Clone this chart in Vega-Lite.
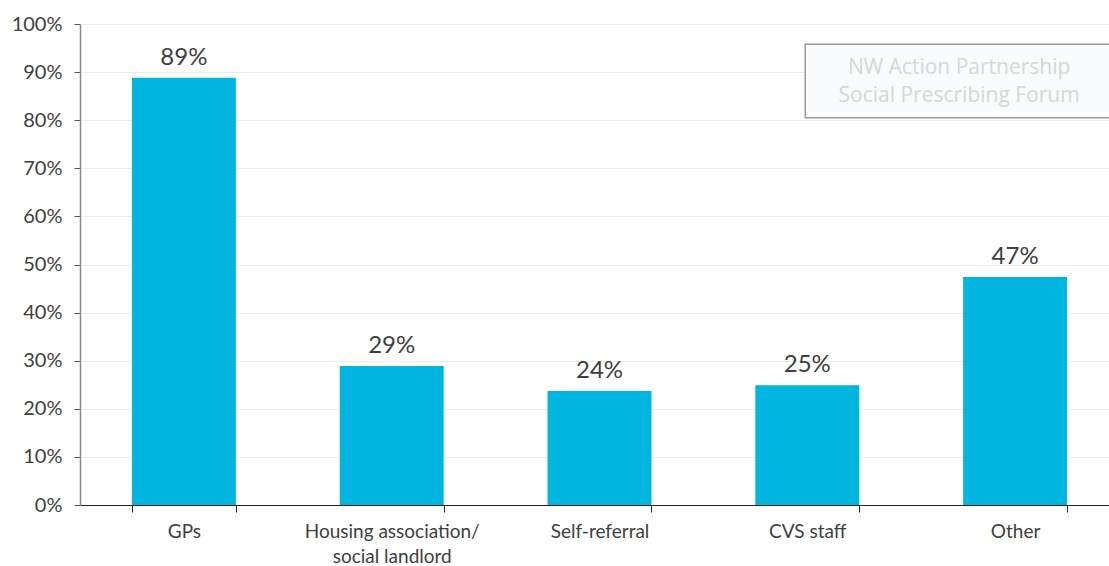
{
  "$schema": "https://vega.github.io/schema/vega-lite/v6.json",
  "autosize": "none",
  "width": 1039,
  "height": 481,
  "padding": {"left": 80, "top": 24, "right": 0, "bottom": 61},
  "background": "white",
  "config": {"view": {"stroke": null}, "font": "Lato"},
  "datasets": {
    "bars": [
      {"source": "GPs", "share": 88.8, "label": "89%"},
      {"source": "Housing association/ social landlord", "share": 28.9, "label": "29%"},
      {"source": "Self-referral", "share": 23.7, "label": "24%"},
      {"source": "CVS staff", "share": 24.9, "label": "25%"},
      {"source": "Other", "share": 47.4, "label": "47%"}
    ],
    "mark": [
      {"x1": "CVS staff", "x2": "Other", "y1": 80.5, "y2": 95.8, "line1": "NW Action Partnership", "line2": "Social Prescribing Forum"}
    ]
  },
  "layer": [
    {
      "data": {"name": "bars"},
      "mark": {"type": "bar", "color": "#00B6E0"},
      "encoding": {
        "x": {
          "field": "source", "type": "nominal", "title": null,
          "scale": {"domain": ["GPs", "Housing association/ social landlord", "Self-referral", "CVS staff", "Other"], "paddingInner": 0.5, "paddingOuter": 0.25},
          "axis": {
            "labelAngle": 0, "labelFontSize": 19, "labelColor": "#404040",
            "labelPadding": 10, "tickBand": "extent", "tickSize": 7,
            "tickColor": "#222", "domainColor": "#222", "labelLineHeight": 25,
            "labelExpr": "datum.label == 'Housing association/ social landlord' ? ['Housing association/', 'social landlord'] : datum.label"
          }
        },
        "y": {
          "field": "share", "type": "quantitative", "title": null,
          "scale": {"domain": [0, 100]},
          "axis": {
            "values": [0,10,20,30,40,50,60,70,80,90,100],
            "labelExpr": "datum.value + '%'", "labelFontSize": 20,
            "labelColor": "#404040", "labelPadding": 12, "tickSize": 6,
            "tickColor": "#555", "domainColor": "#888", "domainWidth": 1.5,
            "gridColor": "#ebebeb", "grid": true
          }
        }
      }
    },
    {
      "data": {"name": "bars"},
      "mark": {"type": "text", "dy": -20, "fontSize": 24, "color": "#404040", "font": "Lato"},
      "encoding": {
        "x": {"field": "source", "type": "nominal"},
        "y": {"field": "share", "type": "quantitative"},
        "text": {"field": "label"}
      }
    },
    {
      "data": {"name": "mark"},
      "mark": {"type": "rect", "fill": "#f9fbfd", "stroke": "#9a9a9a", "strokeWidth": 1.5},
      "encoding": {
        "x": {"field": "x1", "type": "nominal", "bandPosition": 0.48},
        "x2": {"field": "x2", "bandPosition": 1.6},
        "y": {"field": "y1", "type": "quantitative"},
        "y2": {"field": "y2"}
      }
    },
    {
      "data": {"name": "mark"},
      "mark": {"type": "text", "fontSize": 21, "color": "#d3d7de", "dx": -56, "dy": -14, "font": "Open Sans"},
      "encoding": {
        "x": {"field": "x2", "type": "nominal"},
        "y": {"datum": 88, "type": "quantitative"},
        "text": {"field": "line1"}
      }
    },
    {
      "data": {"name": "mark"},
      "mark": {"type": "text", "fontSize": 21, "color": "#d3d7de", "dx": -56, "dy": 14, "font": "Open Sans"},
      "encoding": {
        "x": {"field": "x2", "type": "nominal"},
        "y": {"datum": 88, "type": "quantitative"},
        "text": {"field": "line2"}
      }
    }
  ]
}
